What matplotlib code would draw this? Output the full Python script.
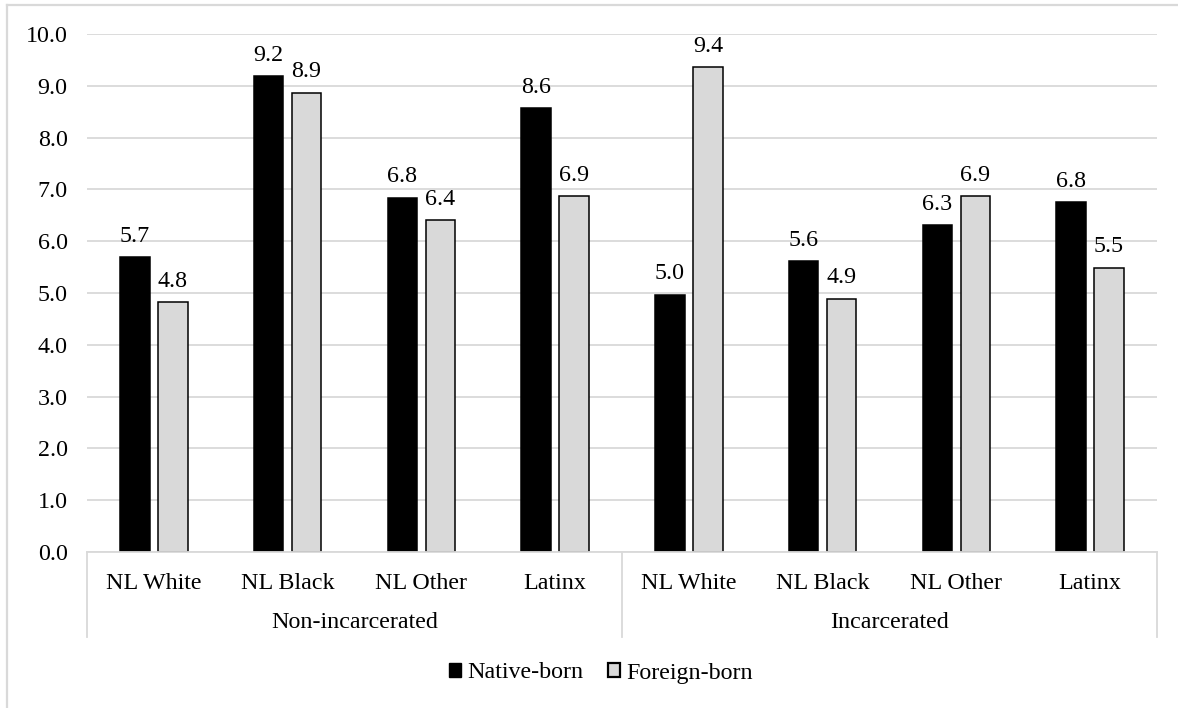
import matplotlib
matplotlib.use("Agg")
import matplotlib.pyplot as plt
from matplotlib.patches import Patch
from matplotlib.lines import Line2D
import matplotlib.transforms as mtransforms
import numpy as np

# Data
groups = ["Non-incarcerated", "Incarcerated"]
categories = ["NL White", "NL Black", "NL Other", "Latinx",
              "NL White", "NL Black", "NL Other", "Latinx"]
native_born = [5.69, 9.19, 6.84, 8.57, 4.97, 5.62, 6.31, 6.75]
foreign_born = [4.83, 8.87, 6.40, 6.87, 9.36, 4.89, 6.87, 5.49]
series_names = ["Native-born", "Foreign-born"]
y_ticks = [0, 1, 2, 3, 4, 5, 6, 7, 8, 9, 10]

plt.rcParams["font.family"] = ["Liberation Serif", "DejaVu Serif"]
FS = 17.3
GRID = "#d9d9d9"
GRAY = "#d9d9d9"

W, H = 1178, 708
fig = plt.figure(figsize=(W / 100, H / 100), dpi=100)

# plot area in pixel coordinates
left_px, right_px, top_px, bottom_px = 87, 1157, 34, 552
ax = fig.add_axes([left_px / W, 1 - bottom_px / H,
                   (right_px - left_px) / W, (bottom_px - top_px) / H])

x = np.arange(len(categories))
offset = 0.142
width = 0.22
b1 = ax.bar(x - offset, native_born, width, color="black",
            edgecolor="black", linewidth=1.1, zorder=3)
b2 = ax.bar(x + offset, foreign_born, width, color=GRAY,
            edgecolor="black", linewidth=1.1, zorder=3)

for bars, vals in ((b1, native_born), (b2, foreign_born)):
    for rect, v in zip(bars, vals):
        ax.annotate(f"{v:.1f}", (rect.get_x() + rect.get_width() / 2, v),
                    xytext=(0, 11), textcoords="offset points",
                    ha="center", va="baseline", fontsize=FS, zorder=4)

ax.set_xlim(-0.5, len(categories) - 0.5)
ax.set_ylim(0, 10)
ax.set_yticks(y_ticks)
ax.set_yticklabels([f"{t:.1f}" for t in y_ticks], fontsize=FS)
ax.tick_params(axis="y", length=0, pad=14)
ax.set_xticks([])
ax.yaxis.grid(True, color=GRID, linewidth=1.3, zorder=0)
for s in ("top", "right", "left"):
    ax.spines[s].set_visible(False)
ax.spines["bottom"].set_color(GRID)
ax.spines["bottom"].set_linewidth(1.3)
ax.spines["bottom"].set_zorder(5)

# multi-level category axis
span = bottom_px - top_px
def ax_y(px):
    return (bottom_px - px) / span

trans = mtransforms.blended_transform_factory(ax.transData, ax.transAxes)
for i, c in enumerate(categories):
    ax.text(i, ax_y(589), c, transform=trans, ha="center", va="baseline",
            fontsize=FS, clip_on=False)
n_per = len(categories) // len(groups)
for g, name in enumerate(groups):
    cx = g * n_per + (n_per - 1) / 2
    ax.text(cx, ax_y(628), name, transform=trans, ha="center",
            va="baseline", fontsize=FS, clip_on=False)
for xb in [-0.5, n_per - 0.5, len(categories) - 0.5]:
    ax.add_line(Line2D([xb, xb], [0, ax_y(637)], transform=trans,
                       color=GRID, linewidth=1.3, clip_on=False))

# legend
handles = [Patch(facecolor="black", edgecolor="black", linewidth=1.0),
           Patch(facecolor=GRAY, edgecolor="black", linewidth=1.6)]
fig.legend(handles, series_names, loc="center",
           bbox_to_anchor=(601 / W, 1 - 673 / H), ncol=2, frameon=False,
           fontsize=FS, handlelength=0.48, handleheight=0.48,
           handletextpad=0.25, columnspacing=1.05, borderpad=0)

# chart border
fig.add_artist(Line2D([7 / W, 1], [1 - 5 / H, 1 - 5 / H],
                      transform=fig.transFigure, color=GRID, linewidth=1.6))
fig.add_artist(Line2D([7 / W, 7 / W], [0, 1 - 5 / H],
                      transform=fig.transFigure, color=GRID, linewidth=1.6))

fig.savefig("out.png", dpi=100)
